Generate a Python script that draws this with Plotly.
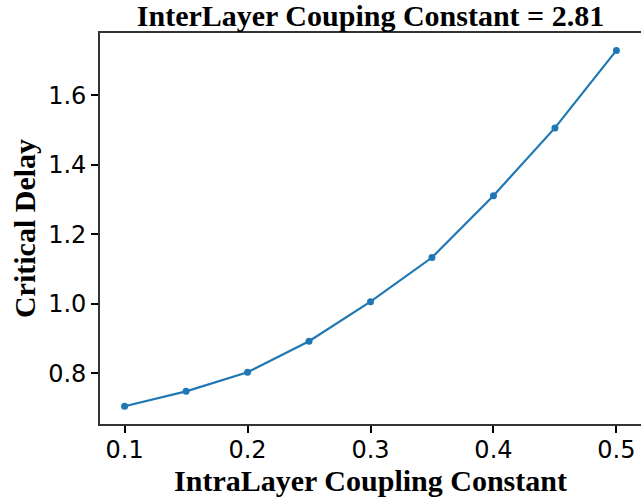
import plotly.graph_objects as go

intra = [0.1, 0.15, 0.2, 0.25, 0.3, 0.35, 0.4, 0.45, 0.5]
delay = [0.705, 0.748, 0.803, 0.892, 1.006, 1.133, 1.311, 1.506, 1.729]
xticks = [0.1, 0.2, 0.3, 0.4, 0.5]
yticks = [0.8, 1.0, 1.2, 1.4, 1.6]

serif = "Liberation Serif, Times New Roman, serif"
sans = "DejaVu Sans, sans-serif"
axcol = "#333333"

fig = go.Figure(go.Scatter(
    x=intra, y=delay, mode="lines+markers",
    line=dict(color="#1f77b4", width=2.2),
    marker=dict(color="#1f77b4", size=7),
))

fig.update_layout(
    width=641, height=497,
    margin=dict(l=100, r=0, t=33, b=73),
    paper_bgcolor="white", plot_bgcolor="white",
    showlegend=False,
    title=dict(text="<b>InterLayer Couping Constant = 2.81</b>",
               font=dict(family=serif, size=30, color="black"),
               x=0.5, xref="paper", xanchor="center",
               y=1, yref="paper", yanchor="bottom", pad=dict(b=7)),
)
fig.update_xaxes(
    range=[0.08, 0.52], tickvals=xticks, ticktext=[f"{v:.1f}" for v in xticks],
    showgrid=False, zeroline=False,
    showline=True, linecolor=axcol, linewidth=1.6, mirror=True,
    ticks="outside", ticklen=7, tickwidth=2, tickcolor="black",
    ticklabelstandoff=-4,
    tickfont=dict(family=sans, size=24, color="black"),
    title=dict(text="<b>IntraLayer Coupling Constant</b>",
               font=dict(family=serif, size=30, color="black"), standoff=6),
)
fig.update_yaxes(
    range=[0.654, 1.779], tickvals=yticks, ticktext=[f"{v:.1f}" for v in yticks],
    showgrid=False, zeroline=False,
    showline=True, linecolor=axcol, linewidth=1.6,
    ticks="outside", ticklen=7, tickwidth=2, tickcolor="black",
    tickfont=dict(family=sans, size=24, color="black"),
    title=dict(text="<b>Critical Delay</b>",
               font=dict(family=serif, size=30, color="black"), standoff=4),
)

fig.write_html("out.html")
